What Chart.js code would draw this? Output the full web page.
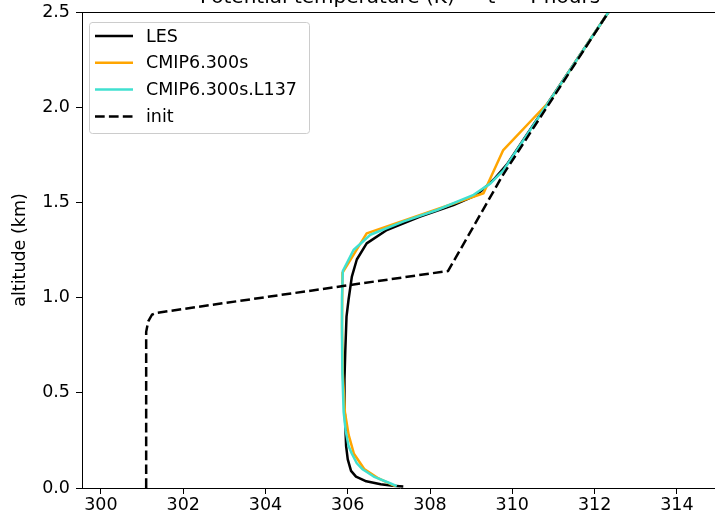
<!DOCTYPE html>
<html>
<head>
<meta charset="utf-8">
<script src="https://cdn.jsdelivr.net/npm/chart.js@4/dist/chart.umd.min.js"></script>
<style>
html,body{margin:0;padding:0;overflow:hidden;background:#fff;}
#wrap{width:718px;height:518px;position:relative;}
</style>
</head>
<body>
<div id="wrap"><canvas id="c"></canvas></div>
<script>
// ---- data (potential temperature K vs altitude km) ----
const seriesLabels = ["LES", "CMIP6.300s", "CMIP6.300s.L137", "init"];

const lesT = [307.35, 307.1, 306.8, 306.45, 306.2, 306.08, 306.0, 305.96, 305.93, 305.92, 305.94, 305.97, 306.02, 306.1, 306.22, 306.46, 306.95, 307.76, 308.57, 309.14, 309.55, 309.87, 312.34, 312.64];
const lesZ = [0.008, 0.012, 0.02, 0.035, 0.06, 0.09, 0.15, 0.22, 0.39, 0.57, 0.72, 0.9, 0.99, 1.11, 1.20, 1.285, 1.355, 1.425, 1.486, 1.54, 1.62, 1.70, 2.5, 2.6];

const cmipT = [307.15, 306.75, 306.4, 306.15, 306.02, 305.93, 305.88, 305.86, 305.87, 306.46, 309.3, 309.78, 310.9, 312.34, 312.64];
const cmipZ = [0.01, 0.05, 0.1, 0.18, 0.28, 0.4, 0.6, 0.85, 1.13, 1.337, 1.548, 1.775, 2.03, 2.5, 2.6];

const l137T = [307.19, 307.03, 306.63, 306.35, 306.22, 306.1, 306.02, 305.95, 305.9, 305.87, 305.86, 305.86, 305.88, 306.14, 306.55, 307.36, 308.17, 309.06, 309.47, 309.79, 312.34, 312.64];
const l137Z = [0.01, 0.025, 0.06, 0.1, 0.13, 0.18, 0.22, 0.3, 0.4, 0.6, 0.8, 1.0, 1.14, 1.25, 1.33, 1.40, 1.46, 1.54, 1.6, 1.67, 2.5, 2.6];

const initT = [301.1, 301.1, 301.15, 301.24, 301.35, 308.44, 309.76, 312.34, 312.64];
const initZ = [0.0, 0.82, 0.875, 0.91, 0.92, 1.14, 1.64, 2.5, 2.6];

const xTicks = [300, 302, 304, 306, 308, 310, 312, 314];
const yTicks = [0.0, 0.5, 1.0, 1.5, 2.0, 2.5];

const titleText = "Potential temperature (K) \u2014 t = 4 hours";
const yTitle = "altitude (km)";

const FONT = "'DejaVu Sans', sans-serif";
const FS = 17.5;
const colors = ["#000000", "#FFA500", "#40E0D0", "#000000"];
const dashes = [[], [], [], [9.7, 4.2]];

function pts(xs, ys){ return xs.map((v,i)=>({x:v, y:ys[i]})); }

const datasets = [
  {label: seriesLabels[0], data: pts(lesT, lesZ), order: 4},
  {label: seriesLabels[1], data: pts(cmipT, cmipZ), order: 3},
  {label: seriesLabels[2], data: pts(l137T, l137Z), order: 2},
  {label: seriesLabels[3], data: pts(initT, initZ), order: 1}
].map((d,i)=>Object.assign(d, {
  borderColor: colors[i], backgroundColor: colors[i], borderWidth: 2.5,
  borderDash: dashes[i], pointRadius: 0, showLine: true, tension: 0, fill: false,
  borderCapStyle: 'butt', borderJoinStyle: 'round'
}));

const decor = {
  id: 'decor',
  afterDraw(chart){
    const ctx = chart.ctx, a = chart.chartArea;
    ctx.save();
    ctx.strokeStyle = '#000'; ctx.lineWidth = 1;
    ctx.beginPath();
    ctx.moveTo(a.left, Math.round(a.top) + 0.5); ctx.lineTo(a.right, Math.round(a.top) + 0.5);
    ctx.moveTo(a.right - 0.5, a.top); ctx.lineTo(a.right - 0.5, a.bottom);
    ctx.stroke();
    ctx.fillStyle = '#000';
    ctx.font = "20px " + FONT;
    ctx.textAlign = 'center'; ctx.textBaseline = 'alphabetic';
    ctx.fillText(titleText, (a.left + a.right) / 2, 3);
    ctx.save();
    ctx.translate(20, (a.top + a.bottom) / 2);
    ctx.rotate(-Math.PI / 2);
    ctx.font = FS + "px " + FONT;
    ctx.textAlign = 'center'; ctx.textBaseline = 'middle';
    ctx.fillText(yTitle, 0, 0);
    ctx.restore();
    // legend
    const bx = 89, by = 22, bw = 220, bh = 111, r = 3;
    ctx.fillStyle = 'rgba(255,255,255,0.8)';
    ctx.strokeStyle = '#cccccc'; ctx.lineWidth = 1;
    ctx.beginPath();
    ctx.moveTo(bx + r, by + 0.5);
    ctx.arcTo(bx + bw + 0.5, by + 0.5, bx + bw + 0.5, by + bh, r);
    ctx.arcTo(bx + bw + 0.5, by + bh + 0.5, bx, by + bh + 0.5, r);
    ctx.arcTo(bx + 0.5, by + bh + 0.5, bx + 0.5, by, r);
    ctx.arcTo(bx + 0.5, by + 0.5, bx + bw, by + 0.5, r);
    ctx.closePath();
    ctx.fill(); ctx.stroke();
    ctx.font = FS + "px " + FONT;
    ctx.textAlign = 'left'; ctx.textBaseline = 'middle';
    chart.data.datasets.forEach((d, i) => {
      const y = 36 + i * 26.8;
      ctx.strokeStyle = d.borderColor; ctx.lineWidth = 2.5;
      ctx.setLineDash(d.borderDash || []);
      ctx.beginPath(); ctx.moveTo(95, y); ctx.lineTo(133, y); ctx.stroke();
      ctx.setLineDash([]);
      ctx.fillStyle = '#000';
      ctx.fillText(d.label, 146, y + 1);
    });
    ctx.restore();
  }
};

new Chart(document.getElementById('c'), {
  type: 'scatter',
  data: {datasets},
  options: {
    responsive: true, maintainAspectRatio: false, animation: false,
    devicePixelRatio: 1,
    layout: {padding: {top: 12, left: 0, right: 0, bottom: 0}},
    plugins: {legend: {display: false}, tooltip: {enabled: false}, title: {display: false}},
    scales: {
      x: {
        type: 'linear', min: 299.54, max: 315.0,
        afterFit(s){ s.height = 30; s.paddingLeft = 0; s.paddingRight = 0; },
        afterBuildTicks(s){ s.ticks = xTicks.map(v => ({value: v})); },
        ticks: {includeBounds: false, color: '#000', font: {family: FONT, size: FS}, padding: 1,
                callback: v => String(v), maxRotation: 0, autoSkip: false},
        grid: {display: true, drawOnChartArea: false, drawTicks: true, tickLength: 6, color: '#000'},
        border: {display: true, color: '#000', width: 1}
      },
      y: {
        type: 'linear', min: 0, max: 2.5,
        afterFit(s){ s.width = 82; s.paddingTop = 0; s.paddingBottom = 0; },
        afterBuildTicks(s){ s.ticks = yTicks.map(v => ({value: v})); },
        ticks: {includeBounds: false, color: '#000', font: {family: FONT, size: FS}, padding: 6,
                callback: v => Number(v).toFixed(1), autoSkip: false},
        grid: {display: true, drawOnChartArea: false, drawTicks: true, tickLength: 6, color: '#000'},
        border: {display: true, color: '#000', width: 1}
      }
    }
  },
  plugins: [decor]
});
</script>
</body>
</html>
